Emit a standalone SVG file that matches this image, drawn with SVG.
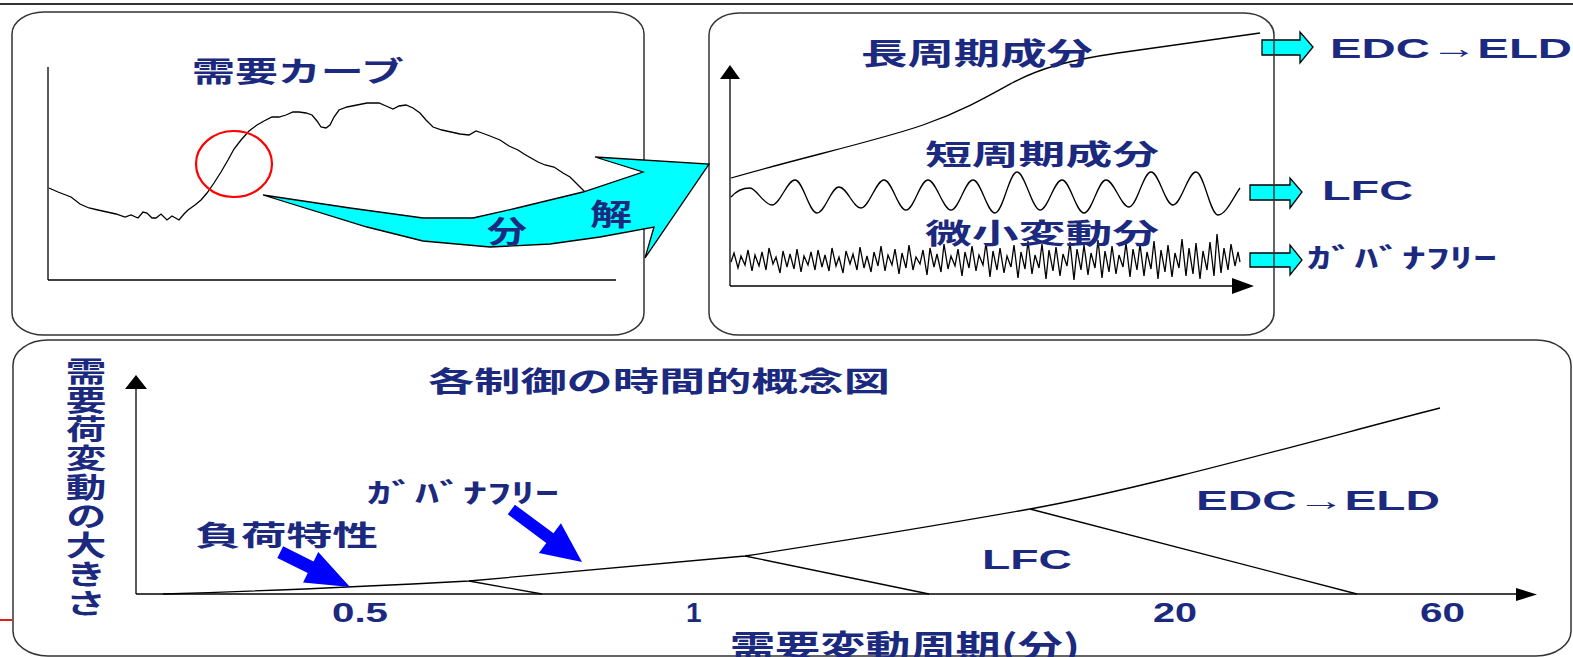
<svg xmlns="http://www.w3.org/2000/svg" width="1573" height="657" viewBox="0 0 1573 657">
<style>
.jp{font-family:"Noto Sans CJK JP","Noto Sans",sans-serif;font-weight:700;fill:#1b2a7f}
.en{font-family:"Liberation Sans","Noto Sans CJK JP",sans-serif;font-weight:700;fill:#1b2a7f}
.ln{fill:none;stroke:#000;stroke-width:1.3}
.box{fill:#fff;stroke:#333;stroke-width:1.5}
.boxo{fill:none;stroke:#333;stroke-width:1.5}
.cy{fill:#00ffff;stroke:#000;stroke-width:1.3;stroke-linejoin:miter}
.bl{fill:#0000ff}
.ax{fill:#000}
.vt{writing-mode:vertical-rl;letter-spacing:1px}
</style>
<rect width="1573" height="657" fill="#fff"/>
<line x1="0" y1="4" x2="1573" y2="4" stroke="#333" stroke-width="2"/>
<line x1="0" y1="620" x2="12" y2="620" stroke="#e02010" stroke-width="2"/>

<g id="box-demand">
  <rect class="box" x="12" y="12" width="632" height="323" rx="32" ry="22"/>
  <line class="ln" x1="48" y1="67" x2="48" y2="280"/>
  <line class="ln" x1="48" y1="280" x2="616" y2="280"/>
  <path class="ln" d="M49,188 L58,192 L71,197 L80,204 L89,208 L98,210 L107,212 L116,214 L125,217 L131,215 L138,218 L143,212 L147,213 L152,218 L156,218 L161,214 L167,220 L172,216 L179,220 L184,214 L188,210 L195,205 L201,200 L207,193 L214,183 L221,172 L228,160 L234,149 L241,140 L249,131 L257,125 L264,121 L272,117 L279,117 L286,115 L293,112 L299,112 L306,113 L312,115 L317,121 L321,127 L326,128 L330,125 L334,117 L339,110 L347,107 L357,105 L367,103 L379,103 L386,106 L393,109 L399,106 L406,105 L413,108 L420,113 L426,120 L433,127 L442,130 L451,132 L460,134 L469,135 L476,131 L482,133 L490,136 L500,140 L509,146 L518,150 L524,154 L531,158 L538,162 L545,165 L554,167 L563,173 L570,177 L576,183 L585,192"/>
  <text class="jp" x="192" y="82" font-size="28" textLength="212" lengthAdjust="spacingAndGlyphs">需要カーブ</text>
  <ellipse cx="234" cy="164" rx="38" ry="33" fill="none" stroke="#ff0000" stroke-width="2.2"/>
</g>

<g id="box-components">
  <path class="ln" d="M731,178 C800,158 880,140 923,125 C960,112 985,98 1012,83 C1040,68 1070,60 1118,53 L1260,33"/>
  <path class="ln" d="M731,197 C738,189 744,188 750,188 S764,205 772,205 S787,180 795,180 S809,213 817,213 S831,187 839,187 S853,208 861,208 S876,180 884,180 S898,210 906,210 S920,180 928,180 S943,210 951,210 S965,180 973,180 S987,213 995,213 S1009,172 1017,172 S1032,210 1040,210 S1054,180 1062,180 S1076,213 1084,213 S1098,180 1106,180 S1121,207 1129,207 S1143,172 1151,172 S1165,205 1173,205 S1188,172 1196,172 S1210,215 1218,215 S1234,196 1240,188"/>
  <polyline class="ln" points="731,262 734,253 738,268 741,256 745,265 748,250 752,271 755,255 759,266 762,252 766,270 769,248 773,264 776,257 780,273 783,251 787,267 790,254 794,269 797,249 801,272 804,256 808,265 811,252 815,270 818,250 822,267 825,255 829,271 832,248 836,266 839,257 843,273 846,251 850,264 853,254 857,270 860,247 864,268 867,256 871,272 874,252 878,266 881,246 885,271 888,255 892,265 895,249 899,274 902,253 906,268 909,245 913,270 916,257 920,264 923,250 927,275 930,248 934,267 937,254 941,272 944,244 948,269 951,256 955,266 958,249 962,276 965,252 969,268 972,246 976,271 979,255 983,265 986,243 990,277 993,251 997,270 1000,248 1004,273 1007,256 1011,267 1014,245 1018,278 1021,252 1025,269 1028,241 1032,274 1035,255 1039,268 1042,244 1046,279 1049,250 1053,271 1056,247 1060,276 1063,254 1067,266 1070,242 1074,280 1077,249 1081,270 1084,245 1088,275 1091,253 1095,268 1098,240 1102,278 1105,251 1109,272 1112,246 1116,274 1119,255 1123,267 1126,243 1130,277 1133,249 1137,270 1140,244 1144,276 1147,252 1151,269 1154,241 1158,279 1161,250 1165,272 1168,245 1172,277 1175,253 1179,268 1182,239 1186,276 1189,248 1193,274 1196,243 1200,279 1203,251 1207,270 1210,242 1214,276 1217,234 1221,273 1224,248 1228,270 1231,244 1235,266 1238,252 1240,262"/>
  <line class="ln" x1="730" y1="286" x2="730" y2="78"/>
  <polygon class="ax" points="730,65 720,79 740,79"/>
  <line class="ln" x1="730" y1="286" x2="1234" y2="286"/>
  <polygon class="ax" points="1254,286 1232,278 1232,294"/>
  <text class="jp" x="861" y="64" font-size="30" textLength="232" lengthAdjust="spacingAndGlyphs">長周期成分</text>
  <text class="jp" x="925" y="165" font-size="28" textLength="234" lengthAdjust="spacingAndGlyphs">短周期成分</text>
  <text class="jp" x="925" y="244" font-size="28" textLength="234" lengthAdjust="spacingAndGlyphs">微小変動分</text>
</g>

<g id="out-edc">
  <polygon class="cy" points="1262,40 1300,40 1300,32 1313,47 1300,63 1300,55 1262,55"/>
  <text class="en" x="1330" y="58" font-size="28" textLength="242" lengthAdjust="spacingAndGlyphs">EDC→ELD</text>
</g>
<g id="out-lfc">
  <polygon class="cy" points="1250,185 1290,185 1290,178 1302,192 1290,208 1290,200 1250,200"/>
  <text class="en" x="1322" y="200" font-size="28" textLength="91" lengthAdjust="spacingAndGlyphs">LFC</text>
</g>
<g id="out-gf">
  <polygon class="cy" points="1250,253 1290,253 1290,245 1302,260 1290,275 1290,267 1250,267"/>
  <text class="jp" x="1307" y="268" font-size="27" textLength="190" lengthAdjust="spacingAndGlyphs">ｶﾞﾊﾞﾅﾌﾘｰ</text>
</g>
<rect class="boxo" x="709" y="13" width="565" height="322" rx="30" ry="22"/>

<g id="decompose-arrow">
  <polygon class="cy" points="263,195 350,208 423,218 473,218 517,208 583,192 643,172 595,157 709,164 645,258 654,227 600,237 550,244 490,247 423,241 367,227"/>
  <text class="jp" x="487" y="242" font-size="30" textLength="40" lengthAdjust="spacingAndGlyphs">分</text>
  <text class="jp" x="590" y="225" font-size="30" textLength="42" lengthAdjust="spacingAndGlyphs">解</text>
</g>

<g id="box-concept">
  <rect class="box" x="13" y="340" width="1558" height="316" rx="35" ry="25"/>
  <text class="jp" x="428" y="392" font-size="28" textLength="462" lengthAdjust="spacingAndGlyphs">各制御の時間的概念図</text>
  <g transform="translate(86,0) scale(1.45,1)">
    <text class="jp vt" x="0" y="357" font-size="28">需要荷変動の大きさ</text>
  </g>
  <line class="ln" x1="136" y1="594" x2="136" y2="388"/>
  <polygon class="ax" points="136,375 125,389 147,389"/>
  <line class="ln" x1="136" y1="594" x2="1518" y2="594"/>
  <polygon class="ax" points="1537,594.5 1516,588 1516,601"/>
  <text class="en" x="332" y="622" font-size="28" textLength="56" lengthAdjust="spacingAndGlyphs">0.5</text>
  <text class="en" x="686" y="622" font-size="28">1</text>
  <text class="en" x="1153" y="622" font-size="28" textLength="44" lengthAdjust="spacingAndGlyphs">20</text>
  <text class="en" x="1420" y="622" font-size="28" textLength="45" lengthAdjust="spacingAndGlyphs">60</text>
  <text class="jp" x="730" y="658" font-size="32" textLength="350" lengthAdjust="spacingAndGlyphs">需要変動周期(分)</text>
  <text class="jp" x="195" y="546" font-size="28" textLength="183" lengthAdjust="spacingAndGlyphs">負荷特性</text>
  <text class="jp" x="367" y="503" font-size="27" textLength="192" lengthAdjust="spacingAndGlyphs">ｶﾞﾊﾞﾅﾌﾘｰ</text>
  <text class="en" x="982" y="569" font-size="27" textLength="90" lengthAdjust="spacingAndGlyphs">LFC</text>
  <text class="en" x="1196" y="510" font-size="27" textLength="244" lengthAdjust="spacingAndGlyphs">EDC→ELD</text>
</g>

<g id="connectors">
  <path class="ln" d="M163,594 Q300,590 469,581 Q620,567 745,556 Q900,532 1030,509 C1147,488 1330,436 1440,408"/>
  <line class="ln" x1="469" y1="581" x2="542" y2="594"/>
  <line class="ln" x1="745" y1="556" x2="929" y2="594"/>
  <line class="ln" x1="1030" y1="509" x2="1357" y2="594"/>
  <polygon class="bl" transform="translate(350,587) rotate(26.6)" points="-78,-6.5 -44,-6.5 -44,-17 0,0 -44,17 -44,6.5 -78,6.5"/>
  <polygon class="bl" transform="translate(582,562) rotate(36.6)" points="-88,-6 -40,-6 -40,-18.5 0,0 -40,18.5 -40,6 -88,6"/>
</g>
</svg>
